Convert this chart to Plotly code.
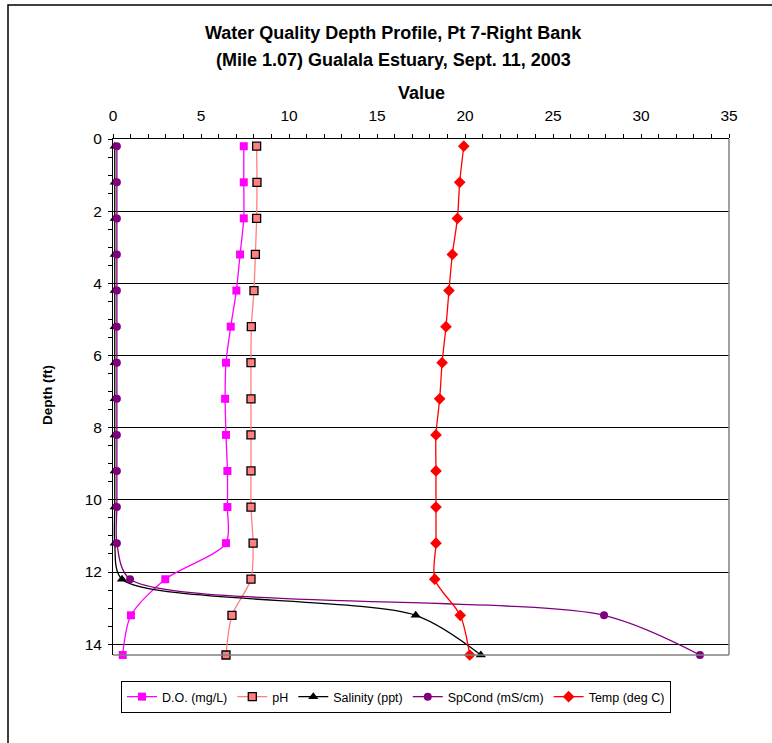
import plotly.graph_objects as go

depth_ft = [0.2, 1.2, 2.2, 3.2, 4.2, 5.2, 6.2, 7.2, 8.2, 9.2, 10.2, 11.2, 12.2, 13.2, 14.3]
do_mgl = [7.43, 7.43, 7.43, 7.22, 7.01, 6.69, 6.42, 6.37, 6.42, 6.5, 6.5, 6.42, 2.97, 1.02, 0.55]
ph = [8.16, 8.18, 8.16, 8.09, 8.01, 7.86, 7.84, 7.84, 7.84, 7.84, 7.84, 7.96, 7.84, 6.76, 6.42]
salinity_ppt = [0.1, 0.1, 0.1, 0.1, 0.1, 0.1, 0.1, 0.1, 0.1, 0.1, 0.1, 0.1, 0.51, 17.2, 20.9]
spcond_mscm = [0.22, 0.22, 0.22, 0.22, 0.22, 0.22, 0.22, 0.22, 0.22, 0.22, 0.22, 0.22, 0.97, 27.9, 33.35]
temp_c = [19.93, 19.7, 19.57, 19.28, 19.09, 18.92, 18.7, 18.56, 18.35, 18.35, 18.35, 18.35, 18.28, 19.73, 20.27]

series_names = ["D.O. (mg/L)", "pH", "Salinity (ppt)", "SpCond (mS/cm)", "Temp (deg C)"]
x_ticks = [0, 5, 10, 15, 20, 25, 30, 35]
y_ticks = [0, 2, 4, 6, 8, 10, 12, 14]

FONT = "Arial, Liberation Sans, sans-serif"

W, H = 772, 743
L, R, T, B = 113, 729, 139, 655  # plot area pixels
pw, ph_ = R - L, B - T


def px_x(px):
    return (px - L) / pw


def px_y(py):
    return (B - py) / ph_


fig = go.Figure()

styles = [
    dict(line=dict(color="#FF00FF", width=1.3),
         marker=dict(symbol="square", size=8, color="#FF00FF")),
    dict(line=dict(color="#FF8080", width=1.3),
         marker=dict(symbol="square", size=8, color="#FF8080", line=dict(color="black", width=1.3))),
    dict(line=dict(color="black", width=1.3),
         marker=dict(symbol="triangle-up", size=9, color="black")),
    dict(line=dict(color="#800080", width=1.3),
         marker=dict(symbol="circle", size=8, color="#800080")),
    dict(line=dict(color="#FF0000", width=1.3),
         marker=dict(symbol="diamond", size=9, color="#FF0000")),
]
values = [do_mgl, ph, salinity_ppt, spcond_mscm, temp_c]

for name, vals, st in zip(series_names, values, styles):
    fig.add_trace(go.Scatter(
        x=vals, y=depth_ft, name=name, mode="lines+markers",
        line=dict(shape="spline", smoothing=0.8, **st["line"]),
        marker=st["marker"], cliponaxis=False,
    ))

fig.update_layout(
    width=W, height=H,
    margin=dict(l=L, r=W - R, t=T, b=H - B, autoexpand=False),
    paper_bgcolor="white", plot_bgcolor="white",
    font=dict(family=FONT, color="black"),
    showlegend=True,
    legend=dict(
        orientation="h", x=px_x(396), y=px_y(697), xanchor="center", yanchor="middle",
        bordercolor="black", borderwidth=1, bgcolor="white",
        font=dict(family=FONT, size=12.5, color="black"),
        itemwidth=30, tracegroupgap=0,
    ),
    xaxis=dict(
        side="top", range=[0, 35], tickvals=x_ticks, ticktext=[str(v) for v in x_ticks],
        showgrid=False, zeroline=False,
        showline=True, linecolor="black", linewidth=1,
        ticks="outside", ticklen=4, tickcolor="black", tickwidth=1,
        minor=dict(dtick=1, ticks="outside", ticklen=4, tickcolor="black", showgrid=False),
        tickfont=dict(family=FONT, size=15.5, color="black"),
        ticklabelstandoff=7,
        fixedrange=True,
    ),
    yaxis=dict(
        range=[14.3, 0], tickvals=y_ticks, ticktext=[str(v) for v in y_ticks],
        showgrid=True, gridcolor="black", gridwidth=1, zeroline=False,
        showline=True, linecolor="black", linewidth=1,
        ticks="outside", ticklen=4, tickcolor="black", tickwidth=1,
        minor=dict(dtick=0.5, ticks="outside", ticklen=4, tickcolor="black", showgrid=False),
        tickfont=dict(family=FONT, size=15.5, color="black"),
        ticklabelstandoff=3,
        fixedrange=True,
    ),
    shapes=[
        # outer chart border (extends past the right/bottom of the page)
        dict(type="rect", xref="paper", yref="paper",
             x0=px_x(8), x1=px_x(W + 20), y0=px_y(H + 20), y1=px_y(5),
             line=dict(color="black", width=1.5), fillcolor="rgba(0,0,0,0)", layer="below"),
        # plot area right and bottom borders (gray)
        dict(type="line", xref="paper", yref="paper", x0=1, x1=1, y0=0, y1=1,
             line=dict(color="#808080", width=1.5)),
        dict(type="line", xref="paper", yref="paper", x0=0, x1=1, y0=0, y1=0,
             line=dict(color="#808080", width=1.5)),
    ],
    annotations=[
        dict(text="<b>Water Quality Depth Profile, Pt 7-Right Bank</b>", xref="paper", yref="paper",
             x=px_x(393), y=px_y(33), xanchor="center", yanchor="middle", showarrow=False,
             font=dict(family=FONT, size=18, color="black")),
        dict(text="<b>(Mile 1.07) Gualala Estuary, Sept. 11, 2003</b>", xref="paper", yref="paper",
             x=px_x(393), y=px_y(60), xanchor="center", yanchor="middle", showarrow=False,
             font=dict(family=FONT, size=18, color="black")),
        dict(text="<b>Value</b>", xref="paper", yref="paper",
             x=px_x(421), y=px_y(93), xanchor="center", yanchor="middle", showarrow=False,
             font=dict(family=FONT, size=18, color="black")),
        dict(text="<b>Depth (ft)</b>", xref="paper", yref="paper", textangle=-90,
             x=px_x(47), y=px_y(395), xanchor="center", yanchor="middle", showarrow=False,
             font=dict(family=FONT, size=13.5, color="black")),
    ],
)

fig.write_html("out.html", config={"displayModeBar": False},
               post_script="document.body.style.margin='0';")
